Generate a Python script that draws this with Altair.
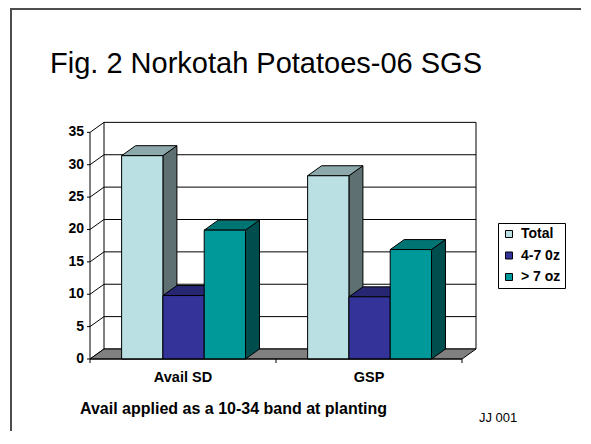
import altair as alt
import pandas as pd

# ---- data ----
categories = ["Avail SD", "GSP"]
series = ["Total", "4-7 0z", "> 7 oz"]
total = [31.4, 28.3]
oz_4_7 = [9.8, 9.6]
oz_gt7 = [19.9, 16.9]
y_ticks = [0, 5, 10, 15, 20, 25, 30, 35]

title_text = "Fig. 2 Norkotah Potatoes-06 SGS"
note_text = "Avail applied as a 10-34 band at planting"
id_text = "JJ 001"

# ---- style ----
front_colors = ["#BBE0E3", "#333399", "#009999"]
top_colors = ["#8CA8AA", "#262673", "#007373"]
side_colors = ["#5E7072", "#1A1A4D", "#004D4D"]
FONT = "Liberation Sans"

W, H = 386, 237
YMAX = 36.6
DX = 14 / 186          # depth offset in category units
DY = 10 / (H / YMAX)   # depth offset in value units
XMAX = len(categories) + DX
PAD = 0.17
BW = 0.222
TOP = y_ticks[-1]

values = [total, oz_4_7, oz_gt7]

front_rows, top_rows, side_rows = [], [], []
for i, cat in enumerate(categories):
    for j, s in enumerate(series):
        v = values[j][i]
        xl = i + PAD + j * BW
        xr = xl + BW
        fid = f"{i}-{j}"
        front_rows.append(dict(cat=cat, series=s, xl=xl, xr=xr, y0=0, v=v))
        top_rows += [dict(id=fid, fill=top_colors[j], y=v, xa=xl, xb=xr),
                     dict(id=fid, fill=top_colors[j], y=v + DY, xa=xl + DX, xb=xr + DX)]
        side_rows += [dict(id=fid, fill=side_colors[j], x=xr, ya=0, yb=v),
                      dict(id=fid, fill=side_colors[j], x=xr + DX, ya=DY, yb=v + DY)]

front_df = pd.DataFrame(front_rows)
top_df = pd.DataFrame(top_rows)
side_df = pd.DataFrame(side_rows)

# wall lines: back-wall gridlines, side-wall diagonals, wall edges, front y-axis line
wall_rows = []
for t in y_ticks:
    wall_rows.append(dict(x1=DX, x2=XMAX, y1=t + DY, y2=t + DY))
    wall_rows.append(dict(x1=0, x2=DX, y1=t, y2=t + DY))
wall_rows.append(dict(x1=DX, x2=DX, y1=DY, y2=TOP + DY))
wall_rows.append(dict(x1=XMAX, x2=XMAX, y1=DY, y2=TOP + DY))
wall_rows.append(dict(x1=0, x2=0, y1=0, y2=TOP))
wall_df = pd.DataFrame(wall_rows)

floor_df = pd.DataFrame([dict(y=0, xa=0, xb=len(categories)),
                         dict(y=DY, xa=DX, xb=XMAX)])
xtick_df = pd.DataFrame({"x": list(range(len(categories) + 1)), "y": 0})
ytick_df = pd.DataFrame({"v": y_ticks, "lab": [str(t) for t in y_ticks]})
cat_df = pd.DataFrame({"c": [i + 0.5 for i in range(len(categories))], "lab": categories})

xs = alt.Scale(domain=[0, XMAX], nice=False, zero=False)
ys = alt.Scale(domain=[0, YMAX], nice=False)

walls = alt.Chart(wall_df).mark_rule(color="black", strokeWidth=1).encode(
    x=alt.X("x1:Q", scale=xs, axis=None), x2="x2:Q",
    y=alt.Y("y1:Q", scale=ys, axis=None), y2="y2:Q")

floor = alt.Chart(floor_df).mark_area(orient="horizontal", color="#808080",
                                      stroke="black", strokeWidth=1, opacity=1).encode(
    y=alt.Y("y:Q", scale=ys, axis=None),
    x=alt.X("xa:Q", scale=xs, axis=None), x2="xb:Q")

sides = alt.Chart(side_df).mark_area(orient="vertical", stroke="black",
                                     strokeWidth=1, opacity=1).encode(
    x=alt.X("x:Q", scale=xs, axis=None),
    y=alt.Y("ya:Q", scale=ys, axis=None), y2="yb:Q",
    fill=alt.Fill("fill:N", scale=None), detail="id:N")

tops = alt.Chart(top_df).mark_area(orient="horizontal", stroke="black",
                                   strokeWidth=1, opacity=1).encode(
    y=alt.Y("y:Q", scale=ys, axis=None),
    x=alt.X("xa:Q", scale=xs, axis=None), x2="xb:Q",
    fill=alt.Fill("fill:N", scale=None), detail="id:N")

fronts = alt.Chart(front_df).mark_rect(stroke="black", strokeWidth=1, opacity=1).encode(
    x=alt.X("xl:Q", scale=xs, axis=None), x2="xr:Q",
    y=alt.Y("v:Q", scale=ys, axis=None), y2="y0:Q",
    color=alt.Color("series:N",
                    scale=alt.Scale(domain=series, range=front_colors),
                    legend=alt.Legend(orient="none", legendX=408, legendY=101,
                                      title=None, strokeColor="black", fillColor="white",
                                      padding=4, symbolType="square", symbolSize=49,
                                      symbolStrokeColor="black", symbolStrokeWidth=1,
                                      symbolOpacity=1,
                                      labelFont=FONT, labelFontSize=14,
                                      labelFontWeight="bold", labelColor="black",
                                      rowPadding=7.5, labelOffset=5)))

xticks = alt.Chart(xtick_df).mark_rule(color="black", strokeWidth=1).encode(
    x=alt.X("x:Q", scale=xs, axis=None),
    y=alt.Y("y:Q", scale=ys, axis=None), y2=alt.value(H + 4))

floor_front = alt.Chart(floor_df.iloc[:1]).mark_rule(color="black", strokeWidth=1).encode(
    x=alt.X("xa:Q", scale=xs, axis=None), x2="xb:Q",
    y=alt.Y("y:Q", scale=ys, axis=None))

yticks = alt.Chart(ytick_df).mark_rule(color="black", strokeWidth=1).encode(
    x=alt.value(-3), x2=alt.value(0),
    y=alt.Y("v:Q", scale=ys, axis=None))

ylabels = alt.Chart(ytick_df).mark_text(
    font=FONT, fontSize=14, fontWeight="bold", color="black",
    align="right", baseline="middle").encode(
    x=alt.value(-6), y=alt.Y("v:Q", scale=ys, axis=None), text="lab:N")

xlabels = alt.Chart(cat_df).mark_text(
    font=FONT, fontSize=14.5, fontWeight="bold", color="black",
    align="center", baseline="alphabetic").encode(
    x=alt.X("c:Q", scale=xs, axis=None), y=alt.value(H + 23), text="lab:N")


def text_layer(txt, x, y, size, weight="normal", align="left"):
    return alt.Chart(pd.DataFrame({"t": [txt]})).mark_text(
        font=FONT, fontSize=size, fontWeight=weight, color="black",
        align=align, baseline="alphabetic").encode(
        x=alt.value(x), y=alt.value(y), text="t:N")


title = text_layer(title_text, 176, -49, 29, align="center")
note = text_layer(note_text, -10, 292, 16, weight="bold")
ident = text_layer(id_text, 389, 300, 13)

border_df = pd.DataFrame([{"k": 0}])
border_top = alt.Chart(border_df).mark_rule(color="#4d4d4d", strokeWidth=2).encode(
    x=alt.value(-80), x2=alt.value(500), y=alt.value(-113))
border_left = alt.Chart(border_df).mark_rule(color="#4d4d4d", strokeWidth=2).encode(
    x=alt.value(-79), y=alt.value(-114), y2=alt.value(320))

chart = alt.layer(
    walls, floor, sides, tops, fronts, xticks, floor_front, yticks, ylabels, xlabels,
    title, note, ident, border_top, border_left
).properties(
    width=W, height=H,
    autosize=alt.AutoSizeParams(type="none"),
    padding={"left": 82, "top": 114, "right": 105, "bottom": 72},
    background="white",
).configure_view(strokeWidth=0)

chart.save("out.html", embed_options={"renderer": "svg", "actions": False})
